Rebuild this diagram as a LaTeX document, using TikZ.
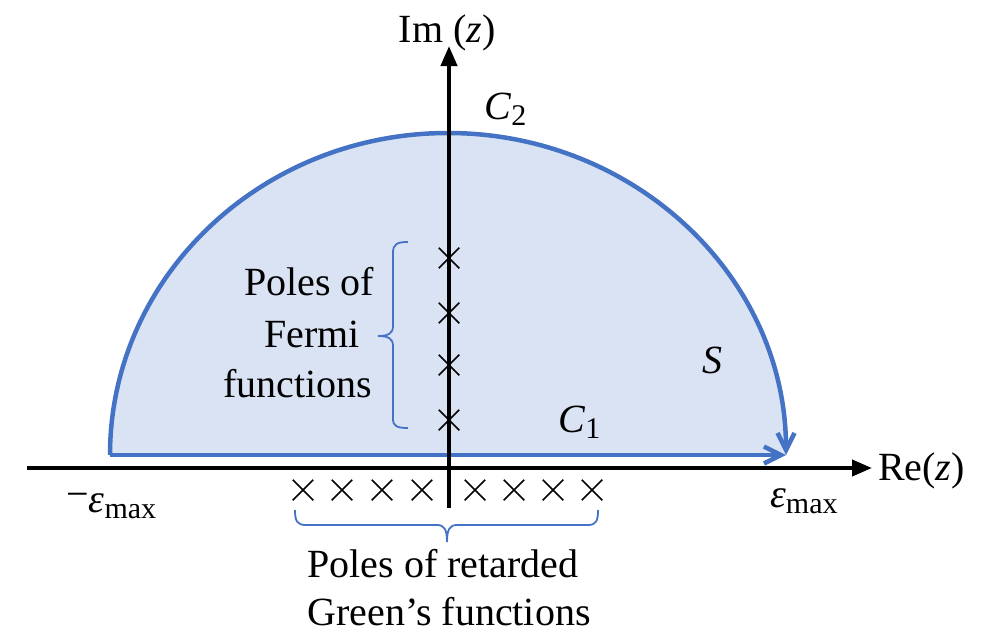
\documentclass[tikz,border=0pt]{standalone}
\usepackage{fontspec}
\setmainfont{Liberation Serif}
\usetikzlibrary{arrows.meta,shapes.misc}
\definecolor{cfill}{HTML}{DAE3F3}
\definecolor{cline}{HTML}{4472C4}
\newcommand\lsub[1]{\raisebox{-6pt}{\fontsize{30}{30}\selectfont #1}}
\begin{document}
\begin{tikzpicture}[x=1pt,y=-1pt,
  font=\fontsize{40}{48}\selectfont,
  contour/.style={draw=cline, line width=4.5pt, line join=round},
  barb/.style={-{Straight Barb[length=17pt,width=17pt]}},
  axis/.style={line width=4pt, -{Triangle[length=20pt,width=16pt]}},
  crossmark/.style={draw, cross out, minimum size=19pt, inner sep=0pt, line width=1.5pt},
  bracestyle/.style={draw=cline, line width=1.8pt},
  lbl/.style={inner sep=0pt}]
\useasboundingbox (0,0) rectangle (993,632);
% region S
\fill[cfill] (110,455) arc[start angle=180,end angle=360,x radius=338,y radius=322] -- cycle;
\coordinate (cl) at (110,455);
\coordinate (cr) at (786,455);
\draw[contour, barb] (cl) -- (cr);
\draw[contour, barb] (cl) arc[start angle=180,end angle=360,x radius=338,y radius=322];
% axes
\coordinate (xs) at (27,468);
\coordinate (xe) at (872,468);
\coordinate (ys) at (449,508);
\coordinate (ye) at (449,46);
\draw[axis] (xs) -- (xe);
\draw[axis] (ys) -- (ye);
% poles of Fermi functions
\node[crossmark] (p1) at (449,258) {};
\node[crossmark] (p2) at (449,313) {};
\node[crossmark] (p3) at (449,365) {};
\node[crossmark] (p4) at (449,420) {};
% poles of retarded Green's functions
\node[crossmark] (g1) at (303,490) {};
\node[crossmark] (g2) at (342,490) {};
\node[crossmark] (g3) at (382,490) {};
\node[crossmark] (g4) at (422,490) {};
\node[crossmark] (g5) at (475,490) {};
\node[crossmark] (g6) at (514,490) {};
\node[crossmark] (g7) at (553,490) {};
\node[crossmark] (g8) at (592,490) {};
% braces
\draw[bracestyle] (408,242) .. controls (397,242) and (393,244) .. (393,253) -- (393,326)
  .. controls (393,333) and (389,336) .. (378,336)
  .. controls (389,336) and (393,339) .. (393,346) -- (393,419)
  .. controls (393,426) and (397,428) .. (408,428);
\draw[bracestyle] (295,510) .. controls (295,521) and (297,525) .. (306,525) -- (437,525)
  .. controls (444,525) and (447,529) .. (447,542)
  .. controls (447,529) and (450,525) .. (457,525) -- (588,525)
  .. controls (596,525) and (598,521) .. (598,510);
% labels
\node[lbl, anchor=base] (im) at (447,42) {Im (\textit{z})};
\node[lbl, anchor=base west] (re) at (878,480) {Re(\textit{z})};
\node[lbl, anchor=base west] (c2) at (484,119) {\textit{C}\lsub{2}};
\node[lbl, anchor=base west] (c1) at (558,432) {\textit{C}\lsub{1}};
\node[lbl, anchor=base west] (s) at (702,373) {\textit{S}};
\node[lbl, anchor=base west] (emin) at (66,512) {\raisebox{5pt}{−}\textit{ε}\lsub{max}};
\node[lbl, anchor=base west] (emax) at (770,507) {\textit{ε}\lsub{max}};
\node[lbl, anchor=base] (f1) at (309,295) {Poles of};
\node[lbl, anchor=base] (f2) at (312,347) {Fermi};
\node[lbl, anchor=base] (f3) at (298,397) {functions};
\node[lbl, anchor=base] (r1) at (443,577) {Poles of retarded};
\node[lbl, anchor=base] (r2) at (449,625) {Green’s functions};
\end{tikzpicture}
\end{document}
